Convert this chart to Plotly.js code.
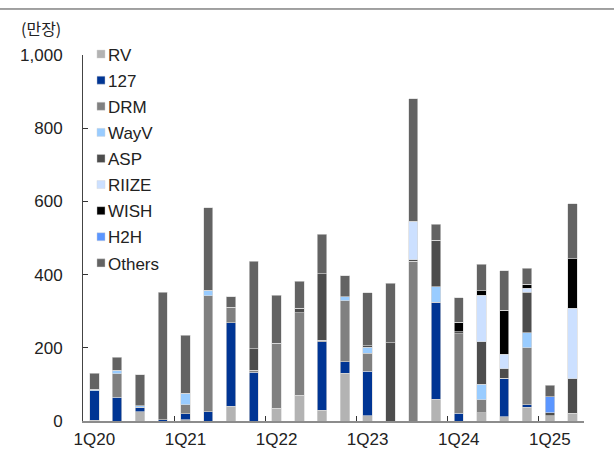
<!DOCTYPE html>
<html>
<head>
<meta charset="utf-8">
<script src="https://cdn.plot.ly/plotly-3.0.1.min.js"></script>
<style>
html,body{margin:0;padding:0;background:#fff;}
#chart{width:614px;height:450px;}
.legend .legendpoints path{transform:translate(18px,0px) scale(0.67);}
.legend .legendtext{transform:translateX(-15px);}
</style>
</head>
<body>
<div id="chart"></div>
<script>
const quarters = ['1Q20','2Q20','3Q20','4Q20','1Q21','2Q21','3Q21','4Q21','1Q22','2Q22','3Q22','4Q22','1Q23','2Q23','3Q23','4Q23','1Q24','2Q24','3Q24','4Q24','1Q25','2Q25'];
const tickLabels = ['1Q20','1Q21','1Q22','1Q23','1Q24','1Q25'];

const RV     = [2, 0, 25, 0, 3, 0, 40, 0, 35, 71, 30, 131, 14, 0, 0, 60, 0, 22, 11, 37, 15, 21];
const NCT127 = [80, 65, 12, 3, 17, 25, 229, 133, 0, 0, 186, 31, 122, 0, 0, 264, 21, 0, 106, 8, 0, 0];
const DRM    = [0, 64, 0, 0, 24, 317, 42, 6, 176, 225, 4, 166, 49, 0, 437, 0, 217, 36, 0, 155, 0, 0];
const WayV   = [5, 9, 4, 0, 32, 15, 0, 0, 2, 0, 0, 12, 16, 0, 0, 43, 0, 42, 0, 41, 0, 0];
const ASP    = [0, 0, 0, 0, 0, 0, 0, 58, 0, 12, 182, 0, 4, 214, 4, 127, 6, 117, 26, 111, 8, 94];
const RIIZE  = [0, 0, 0, 0, 0, 0, 0, 0, 0, 0, 0, 0, 0, 0, 105, 0, 0, 127, 39, 11, 0, 193];
const WISH   = [0, 0, 0, 0, 0, 0, 0, 0, 0, 0, 0, 0, 0, 0, 0, 0, 26, 12, 121, 11, 0, 135];
const H2H    = [0, 0, 0, 0, 0, 0, 0, 0, 0, 0, 0, 0, 0, 0, 0, 0, 0, 0, 0, 0, 43, 0];
const Others = [43, 36, 85, 349, 158, 225, 29, 239, 131, 74, 108, 57, 146, 163, 335, 43, 67, 72, 107, 43, 32, 151];

const seriesNames = ['RV','127','DRM','WayV','ASP','RIIZE','WISH','H2H','Others'];
const seriesData = [RV, NCT127, DRM, WayV, ASP, RIIZE, WISH, H2H, Others];
const seriesColors = ['#b3b3b3','#003594','#808080','#99ccff','#4d4d4d','#cce0ff','#000000','#5b96ff','#636363'];

const boundaryTicks = [3.5, 7.5, 11.5, 15.5, 19.5];

const traces = seriesNames.map((n, i) => ({
  type: 'bar',
  name: n,
  x: quarters,
  y: seriesData[i],
  legendgroup: n,
  marker: {color: seriesColors[i], line: {color: 'rgba(215,215,215,0.9)', width: 0.7}},
  hoverinfo: 'name+y'
}));

// invisible trace to activate the boundary-tick axis
traces.push({
  type: 'scatter', x: [0], y: [0], xaxis: 'x2', mode: 'markers',
  marker: {opacity: 0}, showlegend: false, hoverinfo: 'skip'
});

const font = 'Liberation Sans, Arial, sans-serif';

const layout = {
  width: 614, height: 450,
  margin: {l: 83, r: 30, t: 55, b: 29},
  barmode: 'stack',
  bargap: 0.59,
  paper_bgcolor: '#fff', plot_bgcolor: '#fff',
  font: {family: font, size: 16, color: '#222'},
  showlegend: true,
  legend: {
    x: 0, y: 1.0505, xanchor: 'left', yanchor: 'top',
    bgcolor: 'rgba(0,0,0,0)', traceorder: 'grouped',
    tracegroupgap: 1,
    itemwidth: 30,
    maxheight: 420,
    font: {family: font, size: 17, color: '#222'}
  },
  xaxis: {
    type: 'category',
    categoryorder: 'array', categoryarray: quarters,
    tickvals: tickLabels, ticktext: tickLabels,
    ticks: '', showgrid: false, zeroline: false,
    showline: true, linecolor: '#8c8c8c', linewidth: 2,
    tickfont: {family: font, size: 17, color: '#222'},
    ticklabelstandoff: 2,
    range: [-0.5, 21.5]
  },
  xaxis2: {
    overlaying: 'x', anchor: 'y', type: 'linear',
    range: [-0.5, 21.5],
    tickvals: boundaryTicks, ticks: 'inside', ticklen: 5, tickcolor: '#333', tickwidth: 1,
    showticklabels: false, showgrid: false, zeroline: false, showline: false,
    side: 'bottom'
  },
  yaxis: {
    range: [0, 1000],
    tickvals: [0, 200, 400, 600, 800, 1000],
    tickformat: ',',
    ticks: 'inside', ticklen: 5, tickcolor: '#333', tickwidth: 1,
    showline: true, linecolor: '#444', linewidth: 1,
    showgrid: false, zeroline: false,
    tickfont: {family: font, size: 17, color: '#222'},
    ticklabelstandoff: 16
  },
  annotations: [{
    text: '(만장)', xref: 'paper', yref: 'paper',
    x: -0.084, y: 1.074, xanchor: 'center', yanchor: 'middle',
    showarrow: false,
    font: {family: 'Noto Sans CJK KR, sans-serif', size: 16, color: '#222'}
  }],
  shapes: [{
    type: 'line', xref: 'paper', yref: 'paper',
    x0: -0.1657, x1: 1.06, y0: 1.1257, y1: 1.1257,
    line: {color: '#444', width: 1}
  }]
};

Plotly.newPlot('chart', traces, layout, {displayModeBar: false, staticPlot: true});
</script>
</body>
</html>
